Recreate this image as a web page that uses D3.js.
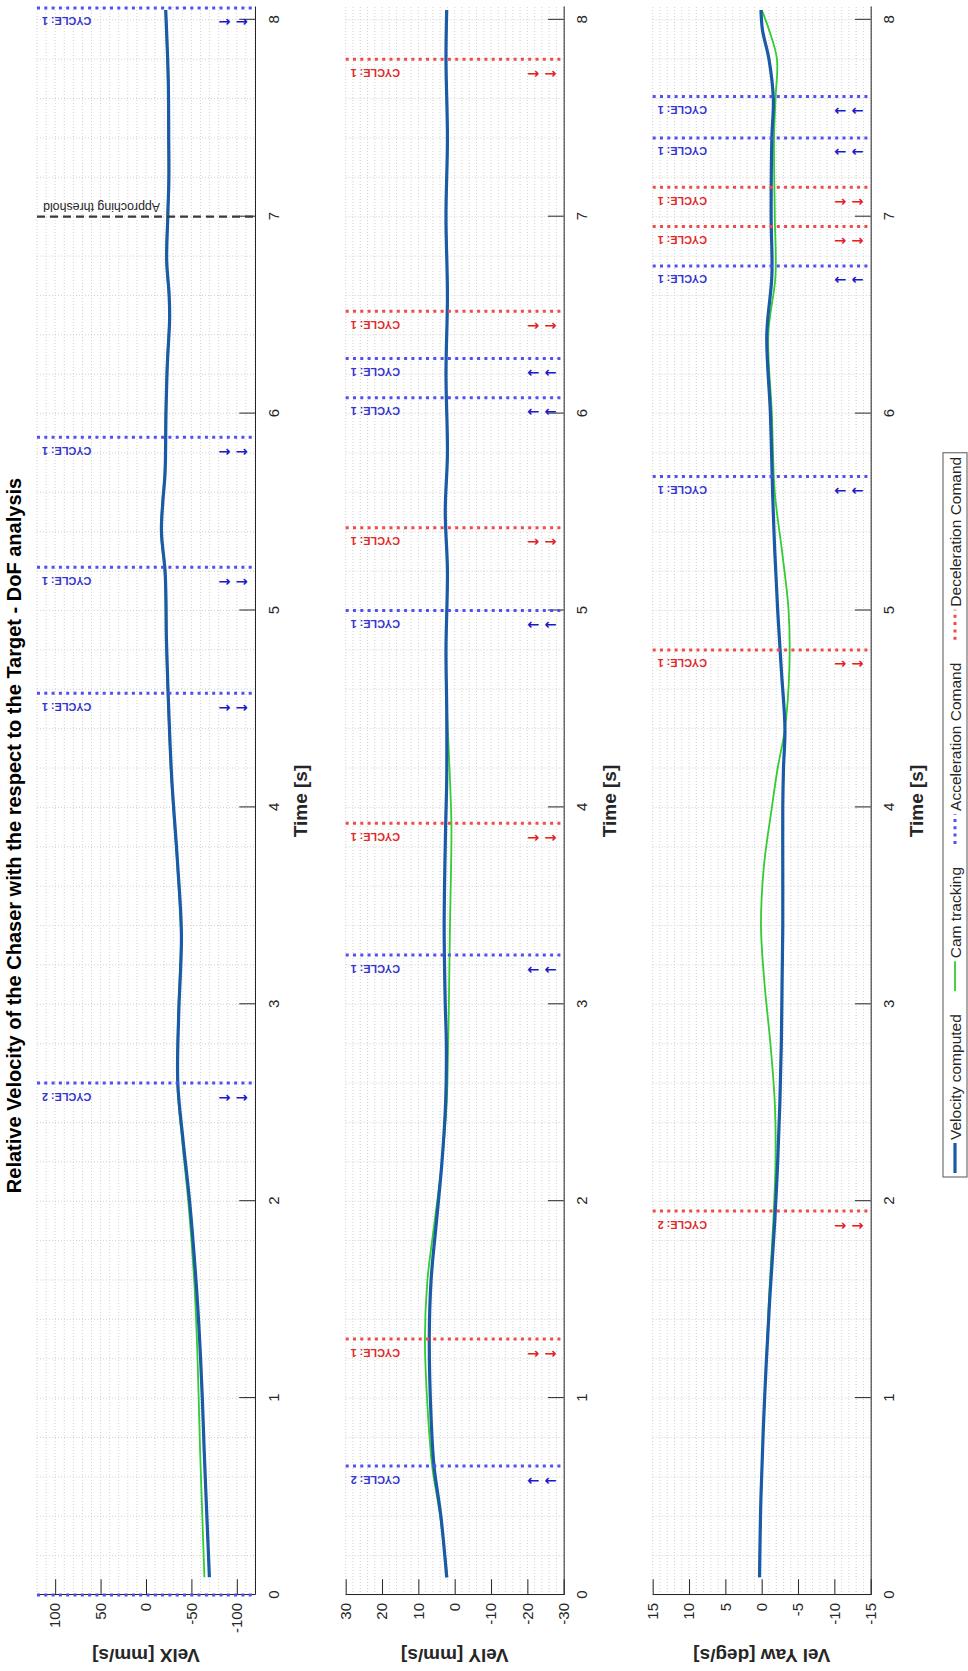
<!DOCTYPE html>
<html>
<head>
<meta charset="utf-8">
<script src="https://cdn.jsdelivr.net/npm/d3@7"></script>
<style>
  body { margin:0; background:#fff; }
  svg { display:block; font-family:"Liberation Sans", Arial, sans-serif; }
</style>
</head>
<body>
<div id="chart"></div>
<script>
// ---- data ----
const timeTicks = [0, 1, 2, 3, 4, 5, 6, 7, 8];

const timeX = [0.09,0.4,0.74,1.0,1.3,1.6,2.0,2.3,2.6,2.95,3.35,3.7,4.15,4.5,4.85,5.05,5.2,5.4,5.55,5.7,6.0,6.25,6.48,6.6,6.78,7.0,7.2,7.4,7.7,8.05];
const velXComputed = [-69.8,-67,-64,-62,-59,-55,-48,-41,-35,-36,-39,-35,-28.3,-25,-22.5,-22,-21,-17,-18.5,-21,-22,-23.5,-26,-25.5,-22.8,-24,-25.2,-25,-24.5,-21.7];
const velXCam      = [-64.3,-62,-59.5,-58,-56,-53,-46.5,-40,-34.5,-35.5,-38.5,-34.5,-27.8,-24.5,-22,-21.5,-20.5,-16.5,-18,-20.5,-21.5,-23,-25.5,-25,-22.3,-23.5,-24.8,-24.6,-24,-21.4];
const yTicksX = [-100, -50, 0, 50, 100];
const yLimX = [-120, 120];
const accTimesX = [0, 2.6, 4.58, 5.22, 5.88, 8.06];
const accCyclesX = [1, 2, 1, 1, 1, 1];
const thresholdTime = 7;

const timeY = [0.09,0.4,0.655,0.9,1.3,1.6,1.9,2.2,2.5,2.8,3.0,3.4,3.9,4.14,4.5,4.8,5.2,5.5,5.8,6.2,6.6,7.0,7.4,7.8,8.05];
const velYComputed = [2.2,3.8,5.7,6.5,7.0,6.5,5.0,3.5,2.5,2.3,2.6,2.9,2.5,2.2,2.2,2.4,2.0,2.6,2.0,2.4,2.0,2.4,2.0,2.4,2.2];
const velYCam      = [2.0,4.0,6.2,7.3,8.2,7.5,5.5,3.5,2.2,1.8,1.6,1.3,0.9,1.3,2.1,2.4,2.0,2.6,2.0,2.4,2.0,2.4,2.0,2.4,2.2];
const yTicksY = [-30, -20, -10, 0, 10, 20, 30];
const yLimY = [-30, 30];
const accTimesY = [0.655, 3.25, 5.0, 6.08, 6.28];
const accCyclesY = [2, 1, 1, 1, 1];
const decTimesY = [1.3, 3.92, 5.42, 6.52, 7.8];
const decCyclesY = [1, 1, 1, 1, 1];

const timeYaw = [0.09,0.5,1.0,1.5,1.9,2.2,2.5,2.8,3.1,3.4,3.7,4.0,4.2,4.4,4.7,5.0,5.3,5.6,6.0,6.4,6.7,7.0,7.4,7.6,7.8,7.95,8.05];
const velYawComputed = [0.3,0.1,-0.4,-1.1,-1.8,-2.2,-2.5,-2.7,-2.8,-2.9,-2.9,-2.9,-3.0,-3.2,-2.7,-2.2,-1.8,-1.5,-1.2,-0.7,-1.4,-1.3,-1.4,-1.6,-1.0,-0.1,0.1];
const velYawCam      = [0.3,0.1,-0.4,-1.0,-1.6,-1.9,-1.8,-1.2,-0.4,0.1,-0.3,-1.4,-2.2,-3.2,-3.8,-3.7,-2.8,-1.8,-1.4,-0.9,-1.9,-1.8,-1.7,-1.9,-2.1,-1.0,0.0];
const yTicksYaw = [-15, -10, -5, 0, 5, 10, 15];
const yLimYaw = [-15, 15];
const accTimesYaw = [5.68, 6.75, 7.4, 7.61];
const accCyclesYaw = [1, 1, 1, 1];
const decTimesYaw = [1.95, 4.8, 6.95, 7.15];
const decCyclesYaw = [2, 1, 1, 1];

const legendLabels = ['Velocity computed', 'Cam tracking', 'Acceleration Comand', 'Deceleration Comand'];

// ---- layout (the figure is drawn landscape, then turned a quarter left) ----
const W = 1671, H = 968;
const plotH = 218;
const blue = '#1b5aa6', green = '#33cc33';
const accColor = '#5151f0', decColor = '#f04a4a';
const accText = '#3434cf', decText = '#e02a2a';
const axisColor = '#262626';

const svg = d3.select('#chart').append('svg')
  .attr('width', H).attr('height', W);
const fig = svg.append('g').attr('transform', `translate(0,${W}) rotate(-90)`);

const x = d3.scaleLinear().domain([0, 8.065]).range([76, 1664]);

const panels = [
  { top: 37, lim: yLimX, ticks: yTicksX, minor: 10, label: 'VelX [mm/s]', t: timeX, comp: velXComputed, cam: velXCam,
    acc: accTimesX, accCyc: accCyclesX, dec: [], decCyc: [], accArrow: '\u2190 \u2190', decArrow: '\u2190 \u2190' },
  { top: 345.7, lim: yLimY, ticks: yTicksY, minor: 2, label: 'VelY [mm/s]', t: timeY, comp: velYComputed, cam: velYCam,
    acc: accTimesY, accCyc: accCyclesY, dec: decTimesY, decCyc: decCyclesY, accArrow: '\u2192 \u2192', decArrow: '\u2190 \u2190' },
  { top: 652.7, lim: yLimYaw, ticks: yTicksYaw, minor: 1, label: 'Vel Yaw [deg/s]', t: timeYaw, comp: velYawComputed, cam: velYawCam,
    acc: accTimesYaw, accCyc: accCyclesYaw, dec: decTimesYaw, decCyc: decCyclesYaw, accArrow: '\u2192 \u2192', decArrow: '\u2190 \u2190' }
];

function vtext(sel, px, py, txt) {
  return sel.append('text')
    .attr('transform', `translate(${px},${py}) rotate(-90)`)
    .text(txt);
}

panels.forEach((p, i) => {
  const y = d3.scaleLinear().domain(p.lim).range([p.top + plotH, p.top]);
  const g = fig.append('g');
  const [x0, x1] = x.range();

  // grid (minor then major), all dotted
  const tMinor = d3.range(0, 8.0001, 0.2);
  const yMinor = d3.range(p.lim[0], p.lim[1] + 1e-9, p.minor);
  g.append('g').selectAll('line').data(tMinor).join('line')
    .attr('x1', d => x(d)).attr('x2', d => x(d))
    .attr('y1', p.top).attr('y2', p.top + plotH)
    .attr('stroke', '#d2d2d2').attr('stroke-dasharray', '1,2');
  g.append('g').selectAll('line').data(yMinor).join('line')
    .attr('x1', x0).attr('x2', x1)
    .attr('y1', d => y(d)).attr('y2', d => y(d))
    .attr('stroke', '#d2d2d2').attr('stroke-dasharray', '1,2');

  // axes
  const ya = g.append('g').attr('transform', `translate(${x0},0)`)
    .call(d3.axisLeft(y).tickValues(p.ticks).tickSize(-15.75).tickSizeOuter(0).tickPadding(8).tickFormat(d => String(d)));
  const xa = g.append('g').attr('transform', `translate(0,${p.top + plotH})`)
    .call(d3.axisBottom(x).tickValues(timeTicks).tickSize(-15.75).tickSizeOuter(0).tickPadding(13).tickFormat(d => String(d)));
  [ya, xa].forEach(a => {
    a.attr('font-size', 15).attr('font-family', null);
    a.selectAll('path, line').attr('stroke', axisColor);
    a.selectAll('text').attr('fill', axisColor);
  });

  // axis labels
  vtext(g, 22, p.top + plotH / 2, p.label)
    .attr('text-anchor', 'middle').attr('font-size', 19).attr('font-weight', 'bold').attr('fill', axisColor);
  g.append('text').attr('x', (x0 + x1) / 2).attr('y', p.top + plotH + 52)
    .attr('text-anchor', 'middle').attr('font-size', 19).attr('font-weight', 'bold').attr('fill', axisColor)
    .text('Time [s]');

  // curves
  const line = d3.line().x(d => x(d[0])).y(d => y(d[1])).curve(d3.curveCatmullRom.alpha(0.5));
  g.append('path').attr('d', line(d3.zip(p.t, p.cam)))
    .attr('fill', 'none').attr('stroke', green).attr('stroke-width', 1.8);
  g.append('path').attr('d', line(d3.zip(p.t, p.comp)))
    .attr('fill', 'none').attr('stroke', blue).attr('stroke-width', 3.2);

  // threshold (first panel only)
  if (i === 0) {
    g.append('line').attr('x1', x(thresholdTime)).attr('x2', x(thresholdTime))
      .attr('y1', p.top).attr('y2', p.top + plotH)
      .attr('stroke', '#3a3a3a').attr('stroke-width', 2.2).attr('stroke-dasharray', '8,5');
    vtext(g, x(thresholdTime) + 14, p.top + 6, 'Approching threshold')
      .attr('text-anchor', 'end').attr('font-size', 12.4).attr('fill', axisColor);
  }

  // command lines
  const events = [];
  p.acc.forEach((t, k) => events.push({ t, cyc: p.accCyc[k], c: accColor, tc: accText, ac: '#1a1ac8', arrow: p.accArrow }));
  p.dec.forEach((t, k) => events.push({ t, cyc: p.decCyc[k], c: decColor, tc: decText, ac: '#e52020', arrow: p.decArrow }));
  events.forEach(e => {
    const px = x(e.t);
    g.append('line').attr('x1', px).attr('x2', px)
      .attr('y1', p.top).attr('y2', p.top + plotH)
      .attr('stroke', e.c).attr('stroke-width', 3).attr('stroke-dasharray', '3,4.3');
    if (px - 20 < x0) return;
    vtext(g, px - 9.5, p.top + 5, 'CYCLE: ' + e.cyc)
      .attr('text-anchor', 'end').attr('font-size', 10.8).attr('font-weight', 'bold').attr('fill', e.tc);
    vtext(g, px - 9.5, p.top + plotH - 7, e.arrow)
      .attr('text-anchor', 'start').attr('font-size', 14.5).attr('font-weight', 'bold')
      .attr('font-family', 'DejaVu Sans').attr('fill', e.ac);
  });
});

// title
fig.append('text').attr('x', W / 2).attr('y', 21)
  .attr('text-anchor', 'middle').attr('font-size', 20).attr('font-weight', 'bold').attr('fill', '#000')
  .text('Relative Velocity of the Chaser with the respect to the Target - DoF analysis');

// legend
const leg = fig.append('g');
const legX = 494, legY = 943, legH = 24;
const box = leg.append('rect').attr('x', legX).attr('y', legY).attr('height', legH)
  .attr('fill', '#fff').attr('stroke', '#555').attr('stroke-width', 1);
const styles = [
  { stroke: blue, w: 3.2, dash: null },
  { stroke: green, w: 1.8, dash: null },
  { stroke: accColor, w: 3, dash: '3,4.3' },
  { stroke: decColor, w: 3, dash: '3,4.3' }
];
let cx = legX + 4;
legendLabels.forEach((lab, k) => {
  const s = styles[k];
  leg.append('line').attr('x1', cx).attr('x2', cx + 30).attr('y1', legY + legH / 2).attr('y2', legY + legH / 2)
    .attr('stroke', s.stroke).attr('stroke-width', s.w).attr('stroke-dasharray', s.dash);
  const t = leg.append('text').attr('x', cx + 33).attr('y', legY + legH / 2 + 5.5)
    .attr('font-size', 15.5).attr('fill', axisColor).text(lab);
  cx += 33 + t.node().getComputedTextLength() + (k < legendLabels.length - 1 ? 23 : 4);
});
box.attr('width', cx - legX);
</script>
</body>
</html>
